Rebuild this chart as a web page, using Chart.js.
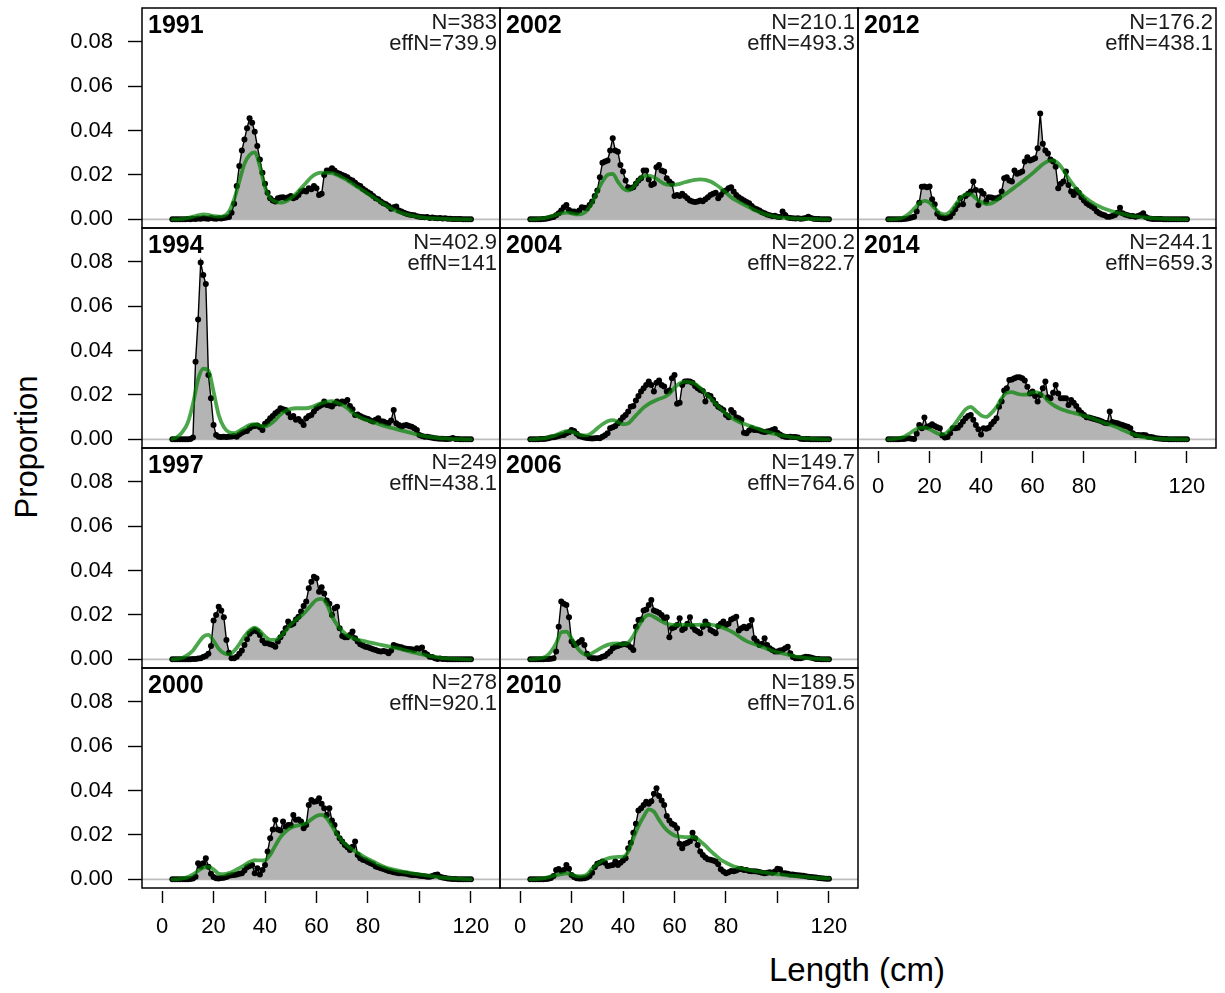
<!DOCTYPE html>
<html>
<head>
<meta charset="utf-8">
<title>Length compositions</title>
<script src="https://cdn.jsdelivr.net/npm/chart.js@4.4.1/dist/chart.umd.min.js"></script>
<style>
  html, body { margin: 0; padding: 0; background: #fff; }
  body { position: relative; width: 1225px; height: 993px; overflow: hidden;
         font-family: "Liberation Sans", Arial, Helvetica, sans-serif; }
  canvas { position: absolute; }
  .axis-title { position: absolute; white-space: nowrap; color: #000; }
  #xTitle { font-size: 33px; line-height: 33px; left: 857px; top: 953px; transform: translateX(-50%); }
  #yTitle { font-size: 31px; line-height: 31px; left: 26px; top: 447px; transform: translate(-50%, -50%) rotate(-90deg); }
</style>
</head>
<body>
<div class="axis-title" id="xTitle">Length (cm)</div>
<div class="axis-title" id="yTitle">Proportion</div>
<script>
// ---- length bins (cm) of the observed compositions ----
const lengthBins = [
  4, 5, 6, 7, 8, 9, 10, 11, 12, 13, 14, 15, 16, 17, 18, 19, 20, 21, 22, 23,
  24, 25, 26, 27, 28, 29, 30, 31, 32, 33, 34, 35, 36, 37, 38, 39, 40, 41, 42, 43,
  44, 45, 46, 47, 48, 49, 50, 51, 52, 53, 54, 55, 56, 57, 58, 59, 60, 61, 62, 63,
  64, 65, 66, 67, 68, 69, 70, 71, 72, 73, 74, 75, 76, 77, 78, 79, 80, 81, 82, 83,
  84, 85, 86, 87, 88, 89, 90, 91, 92, 93, 94, 95, 96, 97, 98, 99, 100, 101, 102, 103,
  104, 105, 106, 107, 108, 109, 110, 111, 112, 113, 114, 115, 116, 117, 118, 119, 120
];
// lengths at which the fitted (expected) composition is given
const fitLengths = [
  4, 6, 8, 10, 12, 14, 16, 18, 20, 22, 24, 26, 28, 30, 32, 34, 36, 38, 40, 42,
  44, 46, 48, 50, 52, 54, 56, 58, 60, 62, 64, 66, 68, 70, 72, 74, 76, 78, 80, 82,
  84, 86, 88, 90, 92, 94, 96, 98, 100, 102, 104, 106, 108, 110, 112, 114, 116, 118, 120
];

// ---- panel labels ----
const years   = ['1991', '1994', '1997', '2000', '2002', '2004', '2006', '2010', '2012', '2014'];
const sampleN = ['383', '402.9', '249', '278', '210.1', '200.2', '149.7', '189.5', '176.2', '244.1'];
const effN    = ['739.9', '141', '438.1', '920.1', '493.3', '822.7', '764.6', '701.6', '438.1', '659.3'];

// ---- axis ticks ----
const xTicks = [0, 20, 40, 60, 80, 100, 120];
const xTickLabels = ['0', '20', '40', '60', '80', '', '120'];
const yTicks = [0, 0.02, 0.04, 0.06, 0.08];
const yTickLabels = ['0.00', '0.02', '0.04', '0.06', '0.08'];

// ---- observed proportions, one value per length bin ----
const obs1991 = [
  0, 0, 0, 0, 0, 0, 0.0002, 0, 0.0003, 0.0002,
  0.0004, 0.0003, 0.0005, 0.0004, 0.0003, 0.0006, 0.0004, 0.0003, 0.0005, 0.0004,
  0.0006, 0.0008, 0.001, 0.003, 0.007, 0.015, 0.024, 0.031, 0.036, 0.041,
  0.0455, 0.0435, 0.0395, 0.033, 0.027, 0.021, 0.016, 0.012, 0.0095, 0.0085,
  0.008, 0.0095, 0.0098, 0.010, 0.0095, 0.010, 0.0105, 0.0095, 0.010, 0.011,
  0.0125, 0.013, 0.0125, 0.014, 0.0135, 0.015, 0.014, 0.011, 0.0115, 0.020,
  0.022, 0.022, 0.023, 0.022, 0.021, 0.0205, 0.020, 0.0195, 0.019, 0.018,
  0.0175, 0.0165, 0.0155, 0.015, 0.0138, 0.013, 0.0122, 0.0115, 0.0105, 0.0095,
  0.009, 0.008, 0.0072, 0.0068, 0.006, 0.0048, 0.0055, 0.0058, 0.004, 0.0035,
  0.003, 0.0025, 0.0022, 0.002, 0.0018, 0.0014, 0.0012, 0.001, 0.0009, 0.001,
  0.0006, 0.0008, 0.0006, 0.0005, 0.0006, 0.0004, 0.0005, 0.0003, 0.0003, 0.0002,
  0.0002, 0.0001, 0.0001, 0, 0, 0, 0
];
const obs1994 = [
  0, 0, 0, 0, 0, 0, 0, 0.0001, 0.0008, 0.035,
  0.054, 0.0797, 0.074, 0.070, 0.029, 0.0185, 0.0065, 0.002, 0.0012, 0.001,
  0.0012, 0.001, 0.0012, 0.0013, 0.0015, 0.0012, 0.0022, 0.003, 0.0035, 0.0038,
  0.005, 0.0058, 0.006, 0.0062, 0.0055, 0.0042, 0.007, 0.008, 0.0095, 0.0105,
  0.0118, 0.0125, 0.014, 0.0135, 0.0132, 0.012, 0.010, 0.0105, 0.0088, 0.0092,
  0.008, 0.0065, 0.0095, 0.0105, 0.011, 0.0125, 0.014, 0.0148, 0.0155, 0.017,
  0.0155, 0.0152, 0.0148, 0.016, 0.017, 0.0162, 0.017, 0.0168, 0.0177, 0.015,
  0.0135, 0.011, 0.0112, 0.0105, 0.010, 0.0095, 0.0092, 0.0085, 0.008, 0.0088,
  0.0095, 0.0082, 0.008, 0.0075, 0.0072, 0.0085, 0.0132, 0.0072, 0.0065, 0.0058,
  0.0062, 0.0065, 0.006, 0.0057, 0.005, 0.0042, 0.002, 0.0015, 0.0012, 0.0012,
  0.0009, 0.0007, 0.0005, 0.0004, 0.0003, 0.0003, 0.0002, 0.0002, 0.0003, 0.0006,
  0.0002, 0.0001, 0, 0, 0, 0, 0
];
const obs1997 = [
  0, 0, 0, 0, 0, 0, 0, 0, 0.0001, 0.0002,
  0.0004, 0.0005, 0.001, 0.0015, 0.0025, 0.006, 0.0175, 0.020, 0.0237, 0.022,
  0.019, 0.0087, 0.003, 0.0005, 0.0005, 0.0012, 0.0025, 0.004, 0.0065, 0.009,
  0.0115, 0.0125, 0.0132, 0.0125, 0.011, 0.0085, 0.0072, 0.0072, 0.0068, 0.0065,
  0.0057, 0.008, 0.010, 0.0117, 0.014, 0.017, 0.0155, 0.016, 0.018, 0.0192,
  0.0215, 0.024, 0.026, 0.032, 0.035, 0.0372, 0.0365, 0.0305, 0.0325, 0.0297,
  0.0265, 0.025, 0.020, 0.023, 0.0237, 0.014, 0.0105, 0.010, 0.010, 0.011,
  0.0125, 0.0095, 0.008, 0.0068, 0.0062, 0.0057, 0.0055, 0.005, 0.0045, 0.0042,
  0.0038, 0.0035, 0.0038, 0.0035, 0.0027, 0.004, 0.0065, 0.006, 0.0057, 0.0055,
  0.005, 0.0048, 0.0047, 0.0045, 0.0042, 0.005, 0.0048, 0.0053, 0.003, 0.0022,
  0.0012, 0.001, 0.0005, 0.0002, 0.0004, 0.0002, 0.0001, 0, 0, 0,
  0, 0, 0, 0, 0, 0, 0
];
const obs2000 = [
  0, 0, 0, 0, 0, 0, 0, 0.0001, 0.0004, 0.0012,
  0.0072, 0.0058, 0.0072, 0.0095, 0.0057, 0.0025, 0.001, 0.0005, 0.0004, 0.0006,
  0.0007, 0.001, 0.0016, 0.0018, 0.002, 0.0022, 0.0025, 0.0028, 0.004, 0.0055,
  0.006, 0.0065, 0.0028, 0.005, 0.0022, 0.0042, 0.0065, 0.0125, 0.0185, 0.0225,
  0.0267, 0.0225, 0.022, 0.026, 0.0237, 0.0245, 0.0245, 0.029, 0.0268, 0.027,
  0.026, 0.023, 0.0245, 0.0335, 0.0357, 0.035, 0.0352, 0.0365, 0.034, 0.032,
  0.029, 0.032, 0.0265, 0.0245, 0.0208, 0.0185, 0.017, 0.0155, 0.0145, 0.0132,
  0.0147, 0.017, 0.011, 0.0095, 0.0088, 0.0085, 0.0078, 0.0072, 0.0068, 0.0058,
  0.0055, 0.005, 0.0047, 0.0042, 0.0038, 0.0035, 0.0032, 0.003, 0.0028, 0.0027,
  0.0026, 0.0025, 0.0022, 0.002, 0.0019, 0.0018, 0.0016, 0.0015, 0.0014, 0.0012,
  0.0012, 0.0015, 0.002, 0.0022, 0.0012, 0.0008, 0.0006, 0.0004, 0.0003, 0.0002,
  0.0001, 0, 0, 0, 0, 0, 0
];
const obs2002 = [
  0, 0, 0, 0, 0, 0.0002, 0.0003, 0.0005, 0.0008, 0.001,
  0.0018, 0.0027, 0.004, 0.0055, 0.0065, 0.0042, 0.0035, 0.0035, 0.0032, 0.004,
  0.0055, 0.0052, 0.005, 0.0065, 0.008, 0.0105, 0.013, 0.019, 0.0255, 0.026,
  0.0265, 0.031, 0.0365, 0.031, 0.0305, 0.0245, 0.0215, 0.0175, 0.0145, 0.014,
  0.0145, 0.016, 0.0175, 0.0185, 0.022, 0.022, 0.018, 0.0155, 0.016, 0.0235,
  0.0245, 0.022, 0.0215, 0.0185, 0.017, 0.016, 0.0105, 0.011, 0.0105, 0.0115,
  0.0105, 0.0095, 0.0085, 0.008, 0.0078, 0.008, 0.0085, 0.0082, 0.009, 0.010,
  0.011, 0.0115, 0.012, 0.0095, 0.011, 0.0125, 0.013, 0.014, 0.0145, 0.0125,
  0.011, 0.010, 0.0092, 0.0085, 0.0078, 0.0072, 0.006, 0.005, 0.0045, 0.004,
  0.0032, 0.0028, 0.0022, 0.0018, 0.0015, 0.0016, 0.0012, 0.001, 0.0035, 0.002,
  0.0008, 0.0006, 0.0005, 0.0004, 0.0005, 0.0003, 0.0004, 0.0006, 0.0012, 0.0006,
  0.0003, 0.0002, 0.0001, 0, 0, 0, 0
];
const obs2004 = [
  0, 0, 0, 0, 0.0001, 0.0002, 0.0003, 0.0005, 0.0008, 0.0009,
  0.0012, 0.0015, 0.0018, 0.002, 0.0028, 0.0032, 0.0042, 0.0038, 0.0025, 0.0015,
  0.0012, 0.0008, 0.0006, 0.0005, 0.0004, 0.0005, 0.0006, 0.0005, 0.0012, 0.0018,
  0.0028, 0.005, 0.0055, 0.006, 0.0072, 0.0085, 0.010, 0.011, 0.0125, 0.0147,
  0.015, 0.0175, 0.0195, 0.0215, 0.023, 0.0245, 0.026, 0.0245, 0.0215, 0.0255,
  0.0265, 0.0245, 0.0238, 0.0215, 0.022, 0.0275, 0.029, 0.016, 0.0165, 0.0245,
  0.026, 0.0262, 0.026, 0.0255, 0.024, 0.023, 0.0222, 0.0218, 0.017, 0.020,
  0.0195, 0.0178, 0.016, 0.0147, 0.014, 0.0132, 0.011, 0.010, 0.0132, 0.012,
  0.010, 0.0095, 0.0087, 0.003, 0.0027, 0.004, 0.005, 0.0042, 0.0042, 0.004,
  0.0035, 0.0033, 0.0035, 0.0038, 0.0042, 0.0047, 0.003, 0.0022, 0.0015, 0.0012,
  0.001, 0.0012, 0.0011, 0.001, 0.0008, 0.0003, 0.0002, 0.0001, 0.0001, 0,
  0, 0, 0, 0, 0, 0, 0
];
const obs2006 = [
  0, 0, 0, 0, 0, 0, 0.0001, 0.0002, 0.0003, 0.0005,
  0.0035, 0.0147, 0.026, 0.025, 0.0245, 0.019, 0.008, 0.0065, 0.007, 0.0078,
  0.0087, 0.0065, 0.0025, 0.001, 0.0005, 0.0005, 0.0004, 0.0006, 0.0012, 0.0015,
  0.0025, 0.0035, 0.005, 0.0057, 0.006, 0.0065, 0.0068, 0.0068, 0.0065, 0.0055,
  0.0042, 0.0147, 0.0177, 0.018, 0.022, 0.0225, 0.0245, 0.0267, 0.022, 0.0215,
  0.021, 0.020, 0.0185, 0.019, 0.010, 0.014, 0.0145, 0.0155, 0.0185, 0.0132,
  0.014, 0.016, 0.019, 0.0147, 0.0132, 0.0125, 0.0117, 0.0147, 0.017, 0.0155,
  0.0132, 0.0125, 0.0117, 0.015, 0.016, 0.017, 0.0155, 0.016, 0.018, 0.0185,
  0.0192, 0.013, 0.014, 0.0147, 0.014, 0.015, 0.0177, 0.0095, 0.008, 0.0065,
  0.007, 0.0095, 0.0065, 0.005, 0.0042, 0.0035, 0.0035, 0.004, 0.0042, 0.005,
  0.0057, 0.0027, 0.001, 0.0005, 0.0005, 0.0005, 0.0008, 0.0012, 0.001, 0.0008,
  0.0005, 0.0002, 0.0001, 0, 0, 0, 0
];
const obs2010 = [
  0, 0, 0, 0, 0, 0, 0.0002, 0.0003, 0.0006, 0.0015,
  0.0042, 0.0047, 0.0038, 0.0042, 0.0065, 0.0048, 0.002, 0.001, 0.0005, 0.0004,
  0.0004, 0.0005, 0.0008, 0.0015, 0.003, 0.0055, 0.007, 0.0075, 0.008, 0.0075,
  0.006, 0.0062, 0.0065, 0.008, 0.0065, 0.0075, 0.0085, 0.0095, 0.014, 0.0165,
  0.021, 0.025, 0.031, 0.032, 0.0335, 0.035, 0.034, 0.0352, 0.0385, 0.041,
  0.0375, 0.0355, 0.0335, 0.0285, 0.0265, 0.025, 0.0245, 0.023, 0.016, 0.014,
  0.016, 0.0165, 0.0172, 0.021, 0.0185, 0.0155, 0.0125, 0.011, 0.0098, 0.009,
  0.0088, 0.0085, 0.008, 0.0068, 0.0045, 0.0035, 0.0027, 0.0032, 0.0038, 0.0036,
  0.004, 0.0045, 0.0047, 0.0042, 0.0042, 0.0038, 0.0036, 0.0036, 0.0035, 0.0033,
  0.003, 0.0028, 0.003, 0.0032, 0.003, 0.0035, 0.0048, 0.0045, 0.0028, 0.0027,
  0.0025, 0.0022, 0.0022, 0.002, 0.0018, 0.0017, 0.0016, 0.0014, 0.0012, 0.0011,
  0.0009, 0.0008, 0.0006, 0.0005, 0.0004, 0.0003, 0.0003
];
const obs2012 = [
  0, 0, 0, 0, 0, 0, 0.0002, 0.0003, 0.0005, 0.0008,
  0.0012, 0.0035, 0.0075, 0.0147, 0.0148, 0.0145, 0.0148, 0.009, 0.0068, 0.0025,
  0.001, 0.0008, 0.0005, 0.0008, 0.0012, 0.0028, 0.0045, 0.0065, 0.0095, 0.0068,
  0.0105, 0.0115, 0.0125, 0.017, 0.0132, 0.0065, 0.0128, 0.0115, 0.008, 0.010,
  0.0098, 0.0095, 0.0095, 0.010, 0.0125, 0.0185, 0.019, 0.0175, 0.017, 0.022,
  0.0205, 0.021, 0.0215, 0.026, 0.028, 0.0265, 0.027, 0.0275, 0.032, 0.0477,
  0.034, 0.031, 0.0297, 0.027, 0.026, 0.0237, 0.014, 0.016, 0.017, 0.0215,
  0.0155, 0.0125, 0.011, 0.0132, 0.012, 0.010, 0.0085, 0.0072, 0.0065, 0.0058,
  0.005, 0.0035, 0.0027, 0.0022, 0.0018, 0.0012, 0.0012, 0.0015, 0.002, 0.003,
  0.0052, 0.0028, 0.0022, 0.0018, 0.0015, 0.0015, 0.0012, 0.0015, 0.002, 0.0027,
  0.001, 0.0005, 0.0003, 0.0002, 0.0002, 0.0001, 0.0001, 0, 0, 0,
  0, 0, 0, 0, 0, 0, 0
];
const obs2014 = [
  0, 0, 0, 0, 0, 0.0001, 0.0002, 0.0004, 0.0005, 0.0003,
  0.0002, 0.0025, 0.0065, 0.005, 0.0098, 0.0057, 0.006, 0.0068, 0.006, 0.0055,
  0.005, 0.0017, 0.0008, 0.001, 0.0028, 0.005, 0.005, 0.0052, 0.0065, 0.008,
  0.0095, 0.0105, 0.011, 0.0088, 0.0065, 0.0045, 0.0022, 0.005, 0.0048, 0.0052,
  0.0068, 0.008, 0.0095, 0.0147, 0.017, 0.022, 0.023, 0.0267, 0.027, 0.0275,
  0.028, 0.028, 0.0275, 0.0265, 0.0237, 0.0207, 0.0215, 0.0195, 0.017, 0.020,
  0.023, 0.026, 0.019, 0.0185, 0.021, 0.0245, 0.0207, 0.0185, 0.0185, 0.0185,
  0.0155, 0.0177, 0.0165, 0.015, 0.0132, 0.012, 0.011, 0.010, 0.0098, 0.0095,
  0.0092, 0.0088, 0.0085, 0.008, 0.0075, 0.0072, 0.0125, 0.0078, 0.0075, 0.0072,
  0.0068, 0.0065, 0.006, 0.0057, 0.005, 0.0028, 0.002, 0.002, 0.0018, 0.002,
  0.0018, 0.0012, 0.001, 0.0008, 0.0005, 0.0004, 0.0003, 0.0002, 0.0001, 0,
  0, 0, 0, 0, 0, 0, 0
];

// ---- expected (fitted) proportions at fitLengths ----
const fit1991 = [
  0, 0, 0.0002, 0.0006, 0.0012, 0.0018, 0.0022, 0.002, 0.0015, 0.0012,
  0.0015, 0.0035, 0.009, 0.017, 0.025, 0.029, 0.0302, 0.024, 0.0145, 0.0095,
  0.008, 0.0075, 0.008, 0.0095, 0.0115, 0.014, 0.0165, 0.019, 0.0205, 0.021,
  0.0209, 0.0208, 0.020, 0.0188, 0.0175, 0.016, 0.0145, 0.013, 0.0115, 0.010,
  0.0085, 0.007, 0.0055, 0.0043, 0.0033, 0.0025, 0.0019, 0.0014, 0.001, 0.0007,
  0.0005, 0.0004, 0.0003, 0.0002, 0.0001, 0.0001, 0, 0, 0
];
const fit1994 = [
  0.0002, 0.0012, 0.0035, 0.0075, 0.016, 0.027, 0.0318, 0.031, 0.0215, 0.011,
  0.0055, 0.0032, 0.0028, 0.0038, 0.0052, 0.0064, 0.0068, 0.0062, 0.0058, 0.0068,
  0.0088, 0.0112, 0.0128, 0.0137, 0.014, 0.014, 0.014, 0.0145, 0.0155, 0.0163,
  0.017, 0.0172, 0.0165, 0.0155, 0.014, 0.012, 0.0105, 0.0093, 0.0085, 0.0078,
  0.0069, 0.0062, 0.0055, 0.0049, 0.0043, 0.0037, 0.0031, 0.0025, 0.002, 0.0015,
  0.0011, 0.0008, 0.0005, 0.0004, 0.0002, 0.0001, 0.0001, 0, 0
];
const fit1997 = [
  0, 0.0002, 0.0007, 0.002, 0.004, 0.0072, 0.0102, 0.011, 0.0083, 0.0048,
  0.0028, 0.0022, 0.0038, 0.0068, 0.0103, 0.013, 0.0143, 0.0128, 0.0103, 0.0088,
  0.0088, 0.0103, 0.0128, 0.0157, 0.0178, 0.0195, 0.0218, 0.0245, 0.0268, 0.0272,
  0.0248, 0.0195, 0.0155, 0.0128, 0.0108, 0.0096, 0.0089, 0.0083, 0.0078, 0.0073,
  0.0068, 0.0063, 0.0058, 0.0053, 0.0048, 0.0042, 0.0036, 0.003, 0.0025, 0.002,
  0.0015, 0.0011, 0.0007, 0.0005, 0.0003, 0.0002, 0.0001, 0, 0
];
const fit2000 = [
  0, 0.0001, 0.0004, 0.001, 0.0022, 0.0038, 0.0052, 0.0056, 0.0045, 0.0025,
  0.0023, 0.0028, 0.0038, 0.005, 0.0064, 0.0078, 0.0086, 0.0085, 0.0086, 0.011,
  0.0152, 0.019, 0.0215, 0.0232, 0.0241, 0.0245, 0.0253, 0.027, 0.0285, 0.029,
  0.0275, 0.024, 0.0202, 0.0172, 0.015, 0.0134, 0.0119, 0.0105, 0.0092, 0.0081,
  0.0068, 0.0058, 0.005, 0.0044, 0.0039, 0.0034, 0.003, 0.0026, 0.0022, 0.0019,
  0.0016, 0.0012, 0.0009, 0.0007, 0.0005, 0.0003, 0.0002, 0.0001, 0
];
const fit2002 = [
  0, 0.0001, 0.0003, 0.0007, 0.0013, 0.002, 0.0027, 0.003, 0.0027, 0.0022,
  0.0024, 0.004, 0.0075, 0.0125, 0.017, 0.020, 0.0205, 0.017, 0.014, 0.013,
  0.0145, 0.0175, 0.0195, 0.0197, 0.019, 0.0175, 0.016, 0.0155, 0.0155, 0.016,
  0.0167, 0.0173, 0.0178, 0.018, 0.0178, 0.017, 0.0157, 0.014, 0.012, 0.010,
  0.0085, 0.0072, 0.006, 0.0048, 0.0037, 0.0028, 0.002, 0.0015, 0.001, 0.0008,
  0.0006, 0.0004, 0.0003, 0.0002, 0.0002, 0.0001, 0.0001, 0, 0
];
const fit2004 = [
  0, 0.0001, 0.0003, 0.0006, 0.0012, 0.002, 0.003, 0.0037, 0.0035, 0.0026,
  0.0018, 0.0018, 0.003, 0.005, 0.0068, 0.0082, 0.0087, 0.0078, 0.0068, 0.0072,
  0.0095, 0.012, 0.0143, 0.016, 0.0172, 0.0182, 0.019, 0.0205, 0.0232, 0.0252,
  0.026, 0.0258, 0.025, 0.0232, 0.0208, 0.0185, 0.016, 0.0137, 0.0115, 0.0098,
  0.0085, 0.0074, 0.0066, 0.0058, 0.005, 0.0041, 0.0034, 0.0027, 0.0022, 0.0017,
  0.0013, 0.0009, 0.0007, 0.0005, 0.0003, 0.0002, 0.0001, 0, 0
];
const fit2006 = [
  0, 0.0002, 0.0005, 0.0012, 0.0035, 0.0072, 0.0122, 0.0125, 0.0095, 0.0055,
  0.003, 0.002, 0.0028, 0.0042, 0.0055, 0.0065, 0.0071, 0.0072, 0.0068, 0.0075,
  0.0105, 0.0148, 0.0185, 0.020, 0.0192, 0.0178, 0.0165, 0.0158, 0.0155, 0.0155,
  0.0155, 0.0155, 0.0155, 0.0156, 0.0157, 0.0156, 0.0152, 0.0145, 0.0137, 0.0126,
  0.0112, 0.0096, 0.0082, 0.0073, 0.0065, 0.0056, 0.0047, 0.0039, 0.0032, 0.0027,
  0.0021, 0.0015, 0.0011, 0.0008, 0.0005, 0.0003, 0.0002, 0.0001, 0
];
const fit2010 = [
  0, 0.0001, 0.0003, 0.0007, 0.0013, 0.0019, 0.0023, 0.0027, 0.0022, 0.0014,
  0.0015, 0.0022, 0.0048, 0.0068, 0.0084, 0.0094, 0.0099, 0.0101, 0.0102, 0.0125,
  0.0185, 0.024, 0.0283, 0.0315, 0.0305, 0.0268, 0.0235, 0.0212, 0.0198, 0.0192,
  0.019, 0.0191, 0.0188, 0.0172, 0.0152, 0.0128, 0.0108, 0.0088, 0.0075, 0.0064,
  0.0055, 0.0049, 0.0044, 0.004, 0.0036, 0.0033, 0.0029, 0.0026, 0.0023, 0.0021,
  0.0018, 0.0016, 0.0014, 0.0012, 0.001, 0.0008, 0.0006, 0.0005, 0.0004
];
const fit2012 = [
  0, 0.0001, 0.0003, 0.001, 0.0025, 0.0048, 0.0072, 0.0083, 0.0075, 0.005,
  0.0028, 0.0022, 0.0035, 0.0065, 0.0095, 0.0112, 0.0113, 0.0095, 0.0078, 0.0069,
  0.0072, 0.0085, 0.0102, 0.0118, 0.0135, 0.0152, 0.017, 0.0188, 0.0207, 0.0228,
  0.0248, 0.0262, 0.0266, 0.0252, 0.0222, 0.0185, 0.0153, 0.0125, 0.0102, 0.0085,
  0.007, 0.0058, 0.0048, 0.004, 0.0033, 0.0027, 0.0022, 0.0017, 0.0013, 0.001,
  0.0008, 0.0006, 0.0004, 0.0003, 0.0002, 0.0001, 0.0001, 0, 0
];
const fit2014 = [
  0, 0.0002, 0.0005, 0.0012, 0.0025, 0.004, 0.0052, 0.0053, 0.0045, 0.0033,
  0.0022, 0.0025, 0.0045, 0.0072, 0.0105, 0.0135, 0.0146, 0.0128, 0.0108, 0.0101,
  0.0118, 0.0145, 0.0185, 0.021, 0.0213, 0.0206, 0.0201, 0.0202, 0.0212, 0.0212,
  0.0198, 0.0173, 0.0155, 0.0142, 0.0132, 0.0125, 0.0119, 0.0113, 0.0106, 0.0099,
  0.0091, 0.0083, 0.0074, 0.0066, 0.0058, 0.0048, 0.0037, 0.0028, 0.002, 0.0013,
  0.0008, 0.0005, 0.0003, 0.0002, 0.0001, 0.0001, 0, 0, 0
];

const observedByYear = [obs1991, obs1994, obs1997, obs2000, obs2002, obs2004, obs2006, obs2010, obs2012, obs2014];
const fittedByYear   = [fit1991, fit1994, fit1997, fit2000, fit2002, fit2004, fit2006, fit2010, fit2012, fit2014];

// ---- page layout (pixels) ----
const PANEL_W = 358, PANEL_H = 220;
const COL_LEFT = [142, 500, 858];
const ROW_TOP = [8, 228, 448, 668];
const panelCol = [0, 0, 0, 0, 1, 1, 1, 1, 2, 2];
const panelRow = [0, 1, 2, 3, 0, 1, 2, 3, 0, 1];
const panelHasXAxis = [false, false, false, true, false, false, false, true, false, true];
const PAD_L = 90, PAD_R = 6, PAD_T = 6, PAD_B = 70;
const X_MIN = -7.8, X_MAX = 131.3;
const Y_MIN = -0.0039, Y_MAX = 0.0952;

const FONT = '"Liberation Sans", Arial, Helvetica, sans-serif';
const FILL_GREY = '#b4b4b4';
const FIT_GREEN = 'rgba(0,128,0,0.7)';

Chart.defaults.font.family = FONT;

// grey zero line under the data
const zeroLinePlugin = {
  id: 'zeroLine',
  beforeDatasetsDraw(chart) {
    const { ctx, chartArea } = chart;
    const y = chart.scales.y.getPixelForValue(0);
    ctx.save();
    ctx.strokeStyle = '#bdbdbd';
    ctx.lineWidth = 1.6;
    ctx.beginPath();
    ctx.moveTo(chartArea.left, y);
    ctx.lineTo(chartArea.right, y);
    ctx.stroke();
    ctx.restore();
  }
};

// panel box plus year / sample-size labels
const panelDecorPlugin = {
  id: 'panelDecor',
  afterDraw(chart, args, opts) {
    const { ctx, chartArea } = chart;
    ctx.save();
    ctx.strokeStyle = '#000';
    ctx.lineWidth = 1.5;
    ctx.strokeRect(chartArea.left, chartArea.top, chartArea.right - chartArea.left, chartArea.bottom - chartArea.top);

    ctx.fillStyle = '#000';
    ctx.textBaseline = 'alphabetic';
    ctx.textAlign = 'left';
    ctx.font = 'bold 25px ' + FONT;
    ctx.fillText(opts.year, chartArea.left + 6, chartArea.top + 25.3);

    ctx.fillStyle = '#1a1a1a';
    ctx.textAlign = 'right';
    ctx.font = '22px ' + FONT;
    ctx.fillText('N=' + opts.n, chartArea.right - 3, chartArea.top + 20.5);
    ctx.fillText('effN=' + opts.effN, chartArea.right - 3, chartArea.top + 42);
    ctx.restore();
  }
};

for (let i = 0; i < years.length; i++) {
  const col = panelCol[i], row = panelRow[i];
  const showY = col === 0;
  const showX = panelHasXAxis[i];

  const cv = document.createElement('canvas');
  const cw = PANEL_W + PAD_L + PAD_R, ch = PANEL_H + PAD_T + PAD_B;
  cv.width = cw; cv.height = ch;
  cv.style.left = (COL_LEFT[col] - PAD_L) + 'px';
  cv.style.top = (ROW_TOP[row] - PAD_T) + 'px';
  cv.style.width = cw + 'px';
  cv.style.height = ch + 'px';
  document.body.appendChild(cv);

  const obsPoints = lengthBins.map((x, k) => ({ x, y: observedByYear[i][k] }));
  const fitPoints = fitLengths.map((x, k) => ({ x, y: fittedByYear[i][k] }));

  new Chart(cv, {
    type: 'line',
    data: {
      datasets: [
        {
          label: 'expected',
          data: fitPoints,
          borderColor: FIT_GREEN,
          borderWidth: 3.8,
          pointRadius: 0,
          fill: false,
          cubicInterpolationMode: 'monotone',
          borderCapStyle: 'round',
          borderJoinStyle: 'round',
          order: 0
        },
        {
          label: 'observed',
          data: obsPoints,
          borderColor: '#000',
          borderWidth: 1.4,
          backgroundColor: FILL_GREY,
          fill: 'origin',
          tension: 0,
          pointRadius: 3,
          pointBackgroundColor: '#000',
          pointBorderColor: '#000',
          pointBorderWidth: 0,
          order: 1
        }
      ]
    },
    options: {
      responsive: false,
      devicePixelRatio: 1,
      animation: false,
      events: [],
      layout: {
        padding: {
          left: showY ? 0 : PAD_L,
          right: PAD_R,
          top: PAD_T,
          bottom: showX ? 0 : PAD_B
        }
      },
      plugins: {
        legend: { display: false },
        tooltip: { enabled: false },
        title: { display: false },
        panelDecor: { year: years[i], n: sampleN[i], effN: effN[i] }
      },
      scales: {
        x: {
          type: 'linear',
          min: X_MIN,
          max: X_MAX,
          display: showX,
          afterBuildTicks(scale) { scale.ticks = xTicks.map(v => ({ value: v })); },
          afterFit(scale) {
            if (!showX) return;
            scale.height = PAD_B;
            scale.paddingLeft = 0; scale.paddingRight = 0;
          },
          border: { display: false },
          grid: {
            display: true,
            drawOnChartArea: false,
            drawTicks: true,
            tickLength: 15,
            tickWidth: 1.4,
            tickColor: '#000',
            tickBorderDash: [0, 3, 30]
          },
          ticks: {
            autoSkip: false,
            maxRotation: 0,
            padding: 11,
            color: '#000',
            font: { size: 22, family: FONT },
            callback: (v, k) => xTickLabels[k]
          }
        },
        y: {
          type: 'linear',
          min: Y_MIN,
          max: Y_MAX,
          display: showY,
          afterBuildTicks(scale) { scale.ticks = yTicks.map(v => ({ value: v })); },
          afterFit(scale) {
            if (!showY) return;
            scale.width = PAD_L;
            scale.paddingTop = 0; scale.paddingBottom = 0;
          },
          border: { display: false },
          grid: {
            display: true,
            drawOnChartArea: false,
            drawTicks: true,
            tickLength: 14,
            tickWidth: 1.4,
            tickColor: '#000'
          },
          ticks: {
            autoSkip: false,
            padding: 15,
            color: '#000',
            font: { size: 22, family: FONT },
            callback: (v, k) => yTickLabels[k]
          }
        }
      }
    },
    plugins: [zeroLinePlugin, panelDecorPlugin]
  });
}
</script>
</body>
</html>
